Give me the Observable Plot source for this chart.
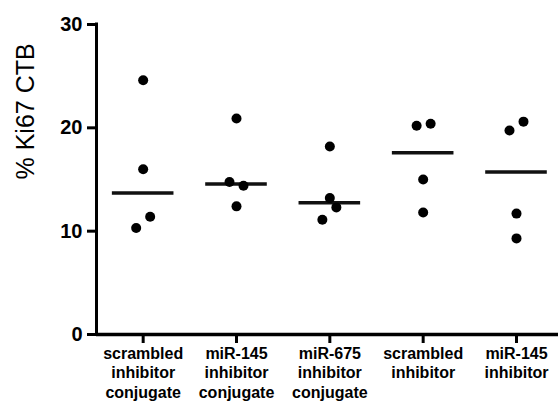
<!DOCTYPE html>
<html>
<head>
<meta charset="utf-8">
<script src="https://cdn.jsdelivr.net/npm/d3@7"></script>
<script src="https://cdn.jsdelivr.net/npm/@observablehq/plot@0.6"></script>
<style>
  html, body { margin: 0; padding: 0; background: #fff; }
</style>
</head>
<body>
<div id="chart"></div>
<script>
// Category labels (multi-line)
const categories = [
  "scrambled\ninhibitor\nconjugate",
  "miR-145\ninhibitor\nconjugate",
  "miR-675\ninhibitor\nconjugate",
  "scrambled\ninhibitor",
  "miR-145\ninhibitor"
];

// % Ki67 CTB values per group
const scrambledConjugate = [24.6, 16.0, 11.4, 10.3];
const mir145Conjugate    = [20.9, 14.75, 14.4, 12.4];
const mir675Conjugate    = [18.2, 13.2, 12.3, 11.1];
const scrambledInhibitor = [20.2, 20.4, 15.0, 11.8];
const mir145Inhibitor    = [19.75, 20.6, 11.7, 9.3];

// Horizontal scatter of each point within its column (in category units)
const scatter1 = [0, 0, 0.075, -0.075];
const scatter2 = [0, -0.075, 0.075, 0];
const scatter3 = [0, 0, 0.07, -0.08];
const scatter4 = [-0.07, 0.08, 0, 0];
const scatter5 = [-0.075, 0.075, 0, 0];

const yTicks = [0, 10, 20, 30];
const yLabel = "% Ki67 CTB";

const groups = [scrambledConjugate, mir145Conjugate, mir675Conjugate, scrambledInhibitor, mir145Inhibitor];
const scatters = [scatter1, scatter2, scatter3, scatter4, scatter5];

const points = groups.flatMap((vals, i) => vals.map((v, j) => ({i, v, off: scatters[i][j]})));
const medians = groups.map((vals, i) => ({i, median: d3.median(vals)}));

const chart = Plot.plot({
  width: 558,
  height: 403,
  marginLeft: 96,
  marginRight: 0,
  marginTop: 24,
  marginBottom: 69,
  style: {fontFamily: "'Liberation Sans', Arial, Helvetica, sans-serif", color: "black", background: "white"},
  x: {type: "linear", domain: [-0.5, 4.45], axis: null},
  y: {domain: [0, 30], axis: null},
  marks: [
    Plot.axisY({ticks: yTicks, tickSize: 9, tickPadding: 5, strokeWidth: 3, fontSize: 20, fontWeight: "bold", label: null}),
    Plot.axisX({ticks: d3.range(categories.length), tickFormat: i => categories[i], tickSize: 9, tickPadding: 2, strokeWidth: 3, fontSize: 16, fontWeight: "bold", lineHeight: 1.2, label: null}),
    Plot.ruleX([-0.5], {y1: 0, y2: 30, strokeWidth: 3, strokeLinecap: "square"}),
    Plot.ruleY([0], {strokeWidth: 3.5}),
    Plot.ruleY(medians, {x1: d => d.i - 0.33, x2: d => d.i + 0.33, y: "median", strokeWidth: 3.5, stroke: "#111"}),
    Plot.dot(points, {x: d => d.i + d.off, y: "v", r: 5, fill: "black"}),
    Plot.text([yLabel], {frameAnchor: "left", rotate: -90, dx: -71, fontSize: 25, fill: "black"})
  ]
});
document.getElementById("chart").append(chart);
</script>
</body>
</html>
